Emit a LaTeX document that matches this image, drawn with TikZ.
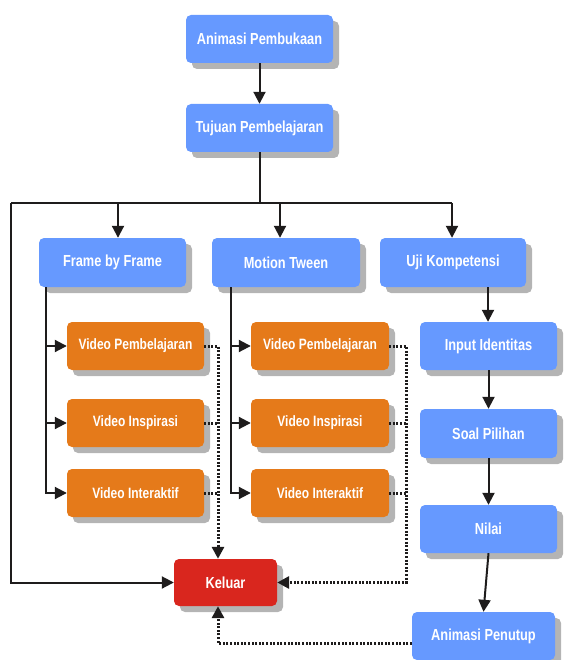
\documentclass[tikz,border=0pt]{standalone}
\usepackage{fontspec}
\setmainfont{Liberation Sans}[FakeStretch=0.8]
\usetikzlibrary{arrows.meta,shadows,calc}
\definecolor{boxblue}{RGB}{102,153,255}
\definecolor{boxorange}{RGB}{229,122,26}
\definecolor{boxred}{RGB}{217,38,30}
\definecolor{shadowgray}{RGB}{180,180,180}
\definecolor{linecol}{RGB}{30,28,28}
\tikzset{
  box/.style={rounded corners=5pt, minimum height=48pt, text=white, inner sep=0pt,
    font=\bfseries\fontsize{16}{19}\selectfont,
    drop shadow={shadow xshift=6pt, shadow yshift=-6pt, fill=shadowgray, opacity=1}},
  bluebox/.style={box, fill=boxblue},
  orangebox/.style={box, fill=boxorange, font=\bfseries\fontsize{15}{18}\selectfont},
  redbox/.style={box, fill=boxred},
  conn/.style={draw=linecol, line width=2pt},
  arr/.style={conn, -{Triangle[length=12pt,width=12pt]}},
  dotline/.style={draw=linecol, line width=3pt, dash pattern=on 2pt off 1.6pt},
  dotarr/.style={dotline, -{Triangle[length=12pt,width=12pt]}}
}
\begin{document}
\begin{tikzpicture}[x=1pt,y=-1pt]
\useasboundingbox (0,0) rectangle (563,660);
\clip (0,0) rectangle (563,660);
% nodes
\node[bluebox, minimum width=147pt] (ap) at (259.5,39) {Animasi Pembukaan};
\node[bluebox, minimum width=147pt] (tp) at (259.5,128) {Tujuan Pembelajaran};
\node[bluebox, minimum width=147pt, minimum height=49pt] (fbf) at (112.5,262.5) {Frame by Frame};
\node[bluebox, minimum width=148pt, minimum height=49pt] (mt) at (286,262.5) {Motion Tween};
\node[bluebox, minimum width=146pt, minimum height=49pt] (uk) at (453,262.5) {Uji Kompetensi};
\node[orangebox, minimum width=137pt] (v1l) at (135.5,346) {Video Pembelajaran};
\node[orangebox, minimum width=137pt] (v2l) at (135.5,423) {Video Inspirasi};
\node[orangebox, minimum width=137pt] (v3l) at (135.5,493) {Video Interaktif};
\node[orangebox, minimum width=138pt] (v1m) at (320,346) {Video Pembelajaran};
\node[orangebox, minimum width=138pt] (v2m) at (320,423) {Video Inspirasi};
\node[orangebox, minimum width=138pt] (v3m) at (320,493) {Video Interaktif};
\node[bluebox, minimum width=137pt] (ii) at (488.5,346) {Input Identitas};
\node[bluebox, minimum width=137pt, minimum height=49pt] (sp) at (488.5,433.5) {Soal Pilihan};
\node[bluebox, minimum width=137pt] (ni) at (488.5,529) {Nilai};
\node[bluebox, minimum width=143pt] (apn) at (483.5,636) {Animasi Penutup};
\node[redbox, minimum width=103pt, minimum height=47pt] (kel) at (225.5,582.5) {Keluar};
% coordinates
\coordinate (busL) at (11,203);
\coordinate (busR) at (452,203);
\coordinate (b1) at (118,203);
\coordinate (b2) at (280,203);
\coordinate (t1) at (46,287);
\coordinate (t2) at (231,287);
\coordinate (d1) at (218,346);
\coordinate (d2) at (406,346);
\coordinate (pb) at (412,643);
\coordinate (uk1) at (488,287);
% solid connectors
\draw[arr] (ap) -- (tp);
\draw[conn] (tp.south) -- (tp.south |- busL);
\draw[conn] (busL) -- (busR);
\draw[arr] (b1) -- (b1 |- fbf.north);
\draw[arr] (b2) -- (b2 |- mt.north);
\draw[arr] (busR) -- (busR |- uk.north);
\draw[arr] (busL) -- (busL |- kel.west) -- (kel.west);
\draw[arr] (t1) -- (t1 |- v3l.west) -- (v3l.west);
\draw[arr] (t1 |- v1l.west) -- (v1l.west);
\draw[arr] (t1 |- v2l.west) -- (v2l.west);
\draw[arr] (t2) -- (t2 |- v3m.west) -- (v3m.west);
\draw[arr] (t2 |- v1m.west) -- (v1m.west);
\draw[arr] (t2 |- v2m.west) -- (v2m.west);
\draw[arr] (uk1) -- (uk1 |- ii.north);
\draw[arr] (ii) -- (sp);
\draw[arr] (sp) -- (ni);
\draw[arr] (ni.south) -- (apn.north);
% dotted connectors
\draw[dotarr] (v1l.east) -- (d1) -- (d1 |- kel.north);
\draw[dotline] (v2l.east) -- (d1 |- v2l.east);
\draw[dotline] (v3l.east) -- (d1 |- v3l.east);
\draw[dotarr] (v1m.east) -- (d2) -- (d2 |- kel.east) -- (kel.east);
\draw[dotline] (v2m.east) -- (d2 |- v2m.east);
\draw[dotline] (v3m.east) -- (d2 |- v3m.east);
\draw[dotarr] (pb) -- (pb -| d1) -- (d1 |- kel.south);
\end{tikzpicture}
\end{document}
